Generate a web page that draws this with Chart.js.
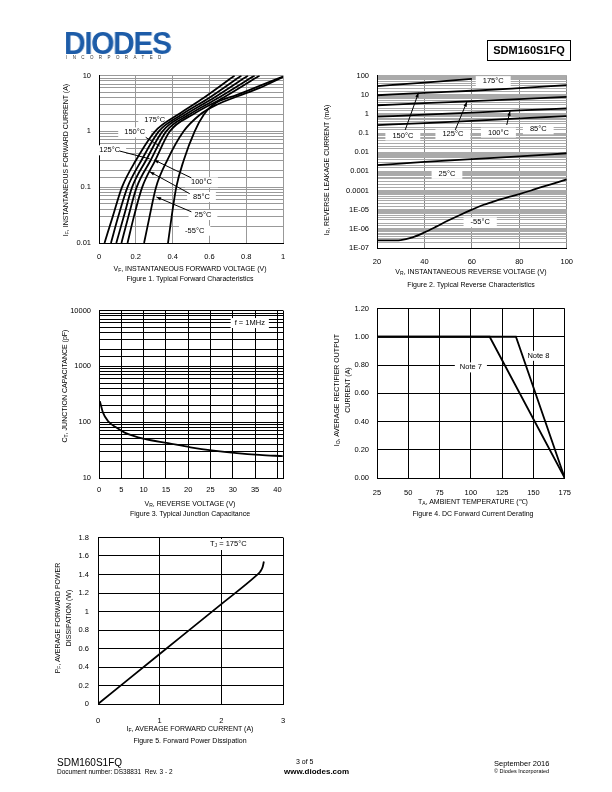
<!DOCTYPE html>
<html>
<head>
<meta charset="utf-8">
<title>SDM160S1FQ</title>
<script src="https://cdn.jsdelivr.net/npm/chart.js@4.4.1/dist/chart.umd.min.js"></script>
<style>
  body { margin: 0; background: #fff; }
  #page { position: relative; width: 612px; height: 792px; overflow: hidden; background: #fff;
          font-family: 'Liberation Sans', Arial, Helvetica, sans-serif; color: #000; }
  canvas { position: absolute; }
  .t { position: absolute; white-space: nowrap; font-size: 7px; width: 300px; height: 10px; line-height: 10px;
       text-align: center; color: #000; will-change: transform; }
  .ty { position: absolute; white-space: nowrap; font-size: 7px; line-height: 10px; text-align: center; color: #000;
        transform: translate(-50%, -50%) rotate(-90deg); }
  .t sub, .ty sub { font-size: 5px; vertical-align: -1px; }
  .abs { position: absolute; white-space: nowrap; color: #000; will-change: transform; }
</style>
</head>
<body>
<div id="page">
  <div class="abs" style="left:64px;top:28px;font:bold 31px 'Liberation Sans',Arial;color:#1d5ca8;letter-spacing:-1.5px;line-height:31px;transform:scaleX(0.97);transform-origin:left top;">DIODES</div>
  <div class="abs" style="left:66px;top:55px;font-size:4.5px;letter-spacing:5.4px;color:#333;">INCORPORATED</div>
  <div class="abs" style="left:487px;top:40px;width:82px;height:19px;border:1px solid #000;font-weight:bold;font-size:11px;line-height:19px;text-align:center;">SDM160S1FQ</div>

  <canvas id="fig1"></canvas>
  <canvas id="fig2"></canvas>
  <canvas id="fig3"></canvas>
  <canvas id="fig4"></canvas>
  <canvas id="fig5"></canvas>

  <!-- axis titles and captions (.t boxes are 300px wide, centred on left+150) -->
  <div class="ty" style="left:66px;top:160px;">I<sub>F</sub>, INSTANTANEOUS FORWARD CURRENT (A)</div>
  <div class="t" style="left:40px;top:264px;">V<sub>F</sub>, INSTANTANEOUS FORWARD VOLTAGE (V)</div>
  <div class="t" style="left:40px;top:274px;">Figure 1. Typical Forward Characteristics</div>

  <div class="ty" style="left:327px;top:170px;">I<sub>R</sub>, REVERSE LEAKAGE CURRENT (mA)</div>
  <div class="t" style="left:321px;top:267px;">V<sub>R</sub>, INSTANTANEOUS REVERSE VOLTAGE (V)</div>
  <div class="t" style="left:321px;top:280px;">Figure 2. Typical Reverse Characteristics</div>

  <div class="ty" style="left:65px;top:386px;">C<sub>T</sub>, JUNCTION CAPACITANCE (pF)</div>
  <div class="t" style="left:40px;top:499px;">V<sub>R</sub>, REVERSE VOLTAGE (V)</div>
  <div class="t" style="left:40px;top:509px;">Figure 3. Typical Junction Capacitance</div>

  <div class="ty" style="left:342px;top:390px;">I<sub>O</sub>, AVERAGE RECTIFIER OUTPUT<br>CURRENT (A)</div>
  <div class="t" style="left:323px;top:497px;">T<sub>A</sub>, AMBIENT TEMPERATURE (℃)</div>
  <div class="t" style="left:323px;top:509px;">Figure 4. DC Forward Current Derating</div>

  <div class="ty" style="left:63px;top:618px;">P<sub>F</sub>, AVERAGE FORWARD POWER<br>DISSIPATION (W)</div>
  <div class="t" style="left:40px;top:724px;">I<sub>F</sub>, AVERAGE FORWARD CURRENT (A)</div>
  <div class="t" style="left:40px;top:736px;">Figure 5. Forward Power Dissipation</div>
  <div class="abs" style="left:207px;top:539px;background:#fff;padding:0 3px;font-size:7.5px;line-height:10px;">T<sub style="font-size:5px;vertical-align:-1px;">J</sub> = 175°C</div>

  <!-- footer -->
  <div class="abs" style="left:57px;top:757px;font-size:10px;">SDM160S1FQ</div>
  <div class="abs" style="left:57px;top:768px;font-size:6.5px;">Document number: DS38831&nbsp; Rev. 3 - 2</div>
  <div class="abs" style="left:296px;top:758px;font-size:7px;">3 of 5</div>
  <div class="abs" style="left:284px;top:767px;font-size:8px;font-weight:bold;">www.diodes.com</div>
  <div class="abs" style="right:63px;top:759px;font-size:7.5px;">September 2016</div>
  <div class="abs" style="right:63px;top:768px;font-size:5.5px;">© Diodes Incorporated</div>
</div>

<script>
// ---- Figure 1: forward characteristics (V, A) ----
const fwdTemps = ['175°C', '150°C', '125°C', '100°C', '85°C', '25°C', '-55°C'];
const ifStd = [0.01, 0.03, 0.1, 0.3, 1, 2, 4, 10];
const vf175 = [0.030, 0.075, 0.125, 0.200, 0.305, 0.430, 0.570, 0.737];
const vf150 = [0.065, 0.105, 0.155, 0.230, 0.325, 0.450, 0.600, 0.774];
const vf125 = [0.094, 0.135, 0.180, 0.255, 0.345, 0.470, 0.625, 0.810];
const vf100 = [0.122, 0.160, 0.205, 0.280, 0.365, 0.490, 0.650, 0.846];
const vf85 = [0.155, 0.190, 0.235, 0.305, 0.385, 0.510, 0.675, 0.873];
const vf25 = [0.245, 0.275, 0.310, 0.370, 0.460, 0.550, 0.640, 0.750, 0.873, 1.000];
const if25 = [0.01, 0.03, 0.1, 0.3, 1, 2, 3, 4.2, 6.0, 9.4];
const vfM55 = [0.375, 0.395, 0.420, 0.460, 0.520, 0.570, 0.620, 0.750, 0.873, 1.000];
const ifM55 = [0.01, 0.03, 0.1, 0.3, 1, 2, 3, 4.5, 6.5, 9.6];

// ---- Figure 2: reverse leakage (V, mA) ----
const vr5 = [20, 40, 60, 80, 100];
const vr175 = [20, 40, 60];
const ir175 = [28, 43, 67];
const ir150 = [9.3, 12.5, 16, 22, 31];
const ir125 = [2.8, 3.6, 4.6, 5.9, 7.6];
const ir100 = [0.71, 0.9, 1.15, 1.5, 1.9];
const ir85 = [0.26, 0.33, 0.43, 0.58, 0.76];
const ir25 = [0.0021, 0.0031, 0.0043, 0.006, 0.0088];
const vrM55 = [20, 25, 30, 35, 40, 45, 50, 55, 60, 65, 70, 75, 80, 85, 90, 95, 100];
const irM55 = [2.5e-7, 2.5e-7, 2.6e-7, 3.6e-7, 6.5e-7, 1.3e-6, 2.7e-6, 5.3e-6, 1.0e-5, 1.8e-5,
               2.9e-5, 4.4e-5, 6.5e-5, 1.0e-4, 1.6e-4, 2.4e-4, 3.8e-4];

// ---- Figure 3: junction capacitance (V, pF) ----
const capV = [0.2, 0.9, 2, 3.9, 5.75, 10.2, 15.5, 20.5, 25.7, 30.9, 36, 41.2];
const capPF = [238, 148, 105, 80, 65, 50, 42, 35.5, 31, 28, 26, 24.6];

// ---- Figure 4: derating (°C, A) ----
const note7T = [25, 115, 175];
const note7I = [1, 1, 0];
const note8T = [25, 136, 175];
const note8I = [1, 1, 0];

// ---- Figure 5: power dissipation (A, W) ----
const pfI = [0, 1, 2, 2.57, 2.63, 2.67, 2.69];
const pfW = [0, 0.54, 1.08, 1.39, 1.43, 1.48, 1.54];

const fontFam = "'Liberation Sans', Arial, Helvetica, sans-serif";
const tickFont = { family: fontFam, size: 7.5 };

function isDecade(v) {
    const e = Math.log10(v);
    return Math.abs(e - Math.round(e)) < 1e-6;
}

function decadeLabel(v, sci) {
    if (!isDecade(v)) return '';
    const e = Math.round(Math.log10(v));
    if (sci && e <= -5) return '1E-0' + (-e);
    if (e < 0) return (Math.pow(10, e)).toFixed(-e);
    return String(Math.pow(10, e));
}

// draws white-boxed labels and leader lines in data coordinates
const notesPlugin = {
    id: 'notes',
    beforeDatasetsDraw(chart, args, opts) {
        const ctx = chart.ctx;
        const xs = chart.scales.x, ys = chart.scales.y;
        const labels = opts.labels || [];
        const lines = opts.lines || [];
        ctx.save();
        ctx.font = (opts.size || 7.5) + 'px ' + fontFam;
        labels.forEach(n => {
            const x = xs.getPixelForValue(n.x), y = ys.getPixelForValue(n.y);
            const w = ctx.measureText(n.text).width;
            const pad = opts.pad || 4;
            ctx.fillStyle = '#fff';
            ctx.fillRect(x - w / 2 - pad, y - 5, w + pad * 2, 10);
        });
        lines.forEach(l => {
            const x1 = xs.getPixelForValue(l.from[0]), y1 = ys.getPixelForValue(l.from[1]);
            const x2 = xs.getPixelForValue(l.to[0]), y2 = ys.getPixelForValue(l.to[1]);
            ctx.strokeStyle = '#000';
            ctx.lineWidth = 1;
            ctx.beginPath();
            ctx.moveTo(x1, y1);
            ctx.lineTo(x2, y2);
            ctx.stroke();
            if (l.arrow) {
                const a = Math.atan2(y2 - y1, x2 - x1);
                ctx.fillStyle = '#000';
                ctx.beginPath();
                ctx.moveTo(x2, y2);
                ctx.lineTo(x2 - 5 * Math.cos(a - 0.35), y2 - 5 * Math.sin(a - 0.35));
                ctx.lineTo(x2 - 5 * Math.cos(a + 0.35), y2 - 5 * Math.sin(a + 0.35));
                ctx.closePath();
                ctx.fill();
            }
        });
        ctx.fillStyle = '#000';
        ctx.textAlign = 'center';
        ctx.textBaseline = 'middle';
        labels.forEach(n => {
            ctx.fillText(n.text, xs.getPixelForValue(n.x), ys.getPixelForValue(n.y));
        });
        ctx.restore();
    }
};

function curve(xs, ys, width, smooth) {
    return {
        data: xs.map((x, i) => ({ x: x, y: ys[i] })),
        showLine: true,
        borderColor: '#000',
        borderWidth: width,
        pointRadius: 0,
        cubicInterpolationMode: smooth ? 'monotone' : 'default',
        fill: false
    };
}

function buildChart(id, plot, scales, datasets, notes) {
    const canvas = document.getElementById(id);
    canvas.width = plot.w + 75;
    canvas.height = plot.h + 30;
    canvas.style.left = (plot.x - 60) + 'px';
    canvas.style.top = (plot.y - 10) + 'px';
    scales.x.afterFit = s => { s.height = 20; };
    scales.y.afterFit = s => { s.width = 60; };
    return new Chart(canvas, {
        type: 'scatter',
        data: { datasets: datasets },
        options: {
            responsive: false,
            animation: false,
            devicePixelRatio: 1,
            layout: { padding: { left: 0, right: 15, top: 10, bottom: 0 } },
            scales: scales,
            plugins: { legend: { display: false }, tooltip: { enabled: false }, notes: notes || {} }
        },
        plugins: [notesPlugin]
    });
}

function linAxis(min, max, step, pad, gridColor, fmt) {
    return {
        type: 'linear', min: min, max: max,
        ticks: { stepSize: step, font: tickFont, color: '#000', padding: pad, maxRotation: 0, autoSkip: false,
                 callback: fmt || (v => String(+v.toFixed(4))) },
        grid: { color: gridColor, drawTicks: false },
        border: { color: '#000' }
    };
}

function logAxis(min, max, pad, gridColor, sci) {
    return {
        type: 'logarithmic', min: min, max: max,
        ticks: { font: tickFont, color: '#000', padding: pad, autoSkip: false, callback: v => decadeLabel(v, sci) },
        grid: { color: gridColor, drawTicks: false },
        border: { color: '#000' }
    };
}

// Figure 1
buildChart('fig1', { x: 99, y: 73, w: 184, h: 170 },
    { x: linAxis(0, 1, 0.2, 9, '#999'), y: logAxis(0.01, 10, 8, '#999', false) },
    [
        curve(vf175, ifStd, 1.8, true),
        curve(vf150, ifStd, 1.8, true),
        curve(vf125, ifStd, 1.8, true),
        curve(vf100, ifStd, 1.8, true),
        curve(vf85, ifStd, 1.8, true),
        curve(vf25, if25, 1.8, true),
        curve(vfM55, ifM55, 1.8, true)
    ],
    {
        pad: 6,
        labels: [
            { x: 0.303, y: 1.61, text: fwdTemps[0] },
            { x: 0.194, y: 0.96, text: fwdTemps[1] },
            { x: 0.058, y: 0.457, text: fwdTemps[2] },
            { x: 0.557, y: 0.122, text: fwdTemps[3] },
            { x: 0.557, y: 0.0667, text: fwdTemps[4] },
            { x: 0.565, y: 0.0317, text: fwdTemps[5] },
            { x: 0.52, y: 0.0166, text: fwdTemps[6] }
        ],
        lines: [
            { from: [0.254, 0.78], to: [0.33, 0.543] },
            { from: [0.112, 0.444], to: [0.276, 0.321] },
            { from: [0.502, 0.1466], to: [0.299, 0.308], arrow: true },
            { from: [0.493, 0.0765], to: [0.276, 0.189], arrow: true },
            { from: [0.502, 0.0362], to: [0.312, 0.0667], arrow: true }
        ]
    });

// Figure 2
buildChart('fig2', { x: 377, y: 73, w: 190, h: 175 },
    { x: linAxis(20, 100, 20, 9, '#888'), y: logAxis(1e-7, 100, 8, '#aaa', true) },
    [
        curve(vr175, ir175, 1.8, true),
        curve(vr5, ir150, 1.8, true),
        curve(vr5, ir125, 1.8, true),
        curve(vr5, ir100, 1.8, true),
        curve(vr5, ir85, 1.8, true),
        curve(vr5, ir25, 1.8, true),
        curve(vrM55, irM55, 1.8, true)
    ],
    {
        pad: 7,
        labels: [
            { x: 69, y: 50.8, text: '175°C' },
            { x: 30.9, y: 0.074, text: '150°C' },
            { x: 52, y: 0.086, text: '125°C' },
            { x: 71.2, y: 0.105, text: '100°C' },
            { x: 88, y: 0.156, text: '85°C' },
            { x: 49.5, y: 7.4e-4, text: '25°C' },
            { x: 63.5, y: 2.2e-6, text: '-55°C' }
        ],
        lines: [
            { from: [31.9, 0.145], to: [37.5, 12.6], arrow: true },
            { from: [53, 0.145], to: [57.9, 4.19], arrow: true },
            { from: [74.7, 0.263], to: [76.1, 1.39], arrow: true }
        ]
    });

// Figure 3
const fig3x = linAxis(0, 41.25, 5, 7, '#000', v => (v % 5 === 0 ? String(v) : ''));
fig3x.afterBuildTicks = s => {
    s.ticks = [0, 5, 10, 15, 20, 25, 30, 35, 40, 41.25].map(v => ({ value: v }));
};
buildChart('fig3', { x: 99, y: 308, w: 184, h: 170 },
    { x: fig3x, y: logAxis(10, 10000, 8, '#000', false) },
    [curve(capV, capPF, 1.8, true)],
    { pad: 4, labels: [{ x: 33.8, y: 5960, text: 'f = 1MHz' }] });

// Figure 4
buildChart('fig4', { x: 377, y: 306, w: 189, h: 172 },
    { x: linAxis(25, 175, 25, 10, '#000'), y: linAxis(0, 1.2, 0.2, 8, '#000', v => v.toFixed(2)) },
    [curve(note7T, note7I, 1.8, false), curve(note8T, note8I, 1.8, false)],
    { pad: 5, labels: [{ x: 100, y: 0.783, text: 'Note 7' }, { x: 154, y: 0.865, text: 'Note 8' }] });

// Figure 5
buildChart('fig5', { x: 98, y: 534, w: 185, h: 170 },
    { x: linAxis(0, 3, 1, 12, '#000'), y: linAxis(0, 1.8, 0.2, 9, '#000') },
    [curve(pfI, pfW, 1.8, true)],
    {});
</script>
</body>
</html>
